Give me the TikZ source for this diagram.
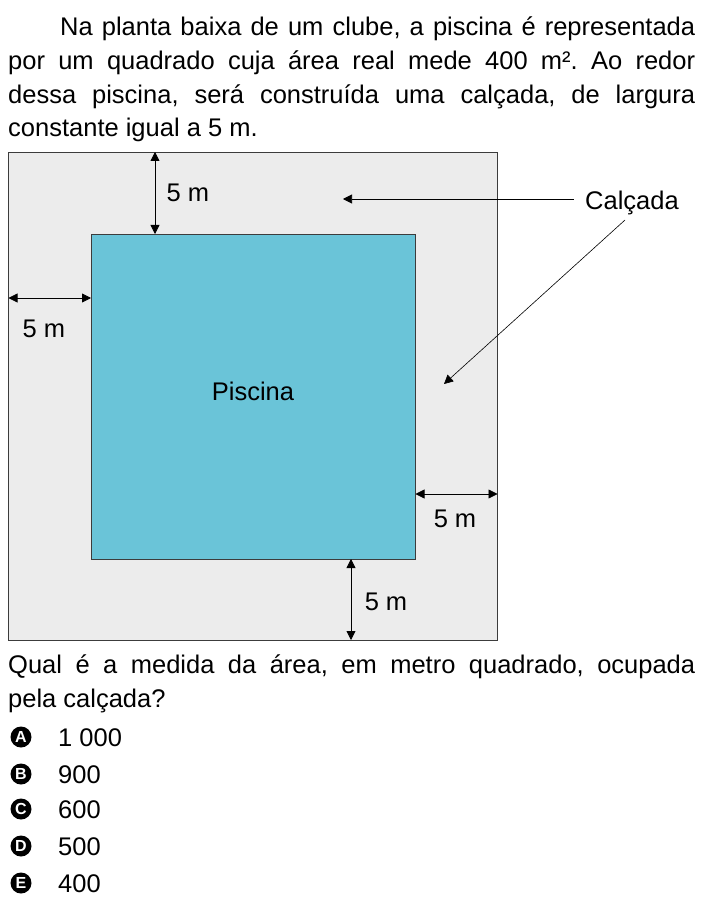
\documentclass[tikz,border=0pt]{standalone}
\usepackage{fontspec}
\setmainfont{Liberation Sans}
\usepackage{tikz}
\usetikzlibrary{arrows.meta}
\frenchspacing

\definecolor{walkgray}{RGB}{236,236,236}
\definecolor{poolblue}{RGB}{106,196,216}
\definecolor{edgegray}{RGB}{60,60,60}

\begin{document}
\begin{tikzpicture}[x=1pt, y=-1pt, font=\fontsize{25.5}{30}\selectfont,
  dimline/.style={thick, arrows = {Triangle[width=9pt, length=9pt]-Triangle[width=9pt, length=9pt]}},
  pointer/.style={semithick, arrows = {-Triangle[width=9pt, length=9pt]}},
  textline/.style={anchor=base west, inner sep=0pt},
  letter/.style={inner sep=0pt, text=white, font=\bfseries\fontsize{16}{16}\selectfont}]
\useasboundingbox (0, 0) rectangle (702, 909);
% statement
\node[textline] (line1) at (60, 36) {\makebox[635pt][s]{Na planta baixa de um clube, a piscina é representada}};
\node[textline] (line2) at (8, 70) {\makebox[687pt][s]{por um quadrado cuja área real mede 400 m². Ao redor}};
\node[textline] (line3) at (8, 104) {\makebox[687pt][s]{dessa piscina, será construída uma calçada, de largura}};
\node[textline] (line4) at (8, 137) {constante igual a 5 m.};
% plan
\draw[edgegray, thick, fill=walkgray] (8.5, 152) rectangle (497.5, 640);
\draw[edgegray, thick, fill=poolblue] (91, 234) rectangle (415.5, 559);
\node (piscina) at (253, 391) {Piscina};
\draw[dimline] (155, 152) -- (155, 234);
\node[anchor=base] (top_lbl) at (188, 202) {5 m};
\draw[dimline] (8.5, 298) -- (91, 298);
\node[anchor=base] (left_lbl) at (44, 337) {5 m};
\draw[dimline] (415.5, 494) -- (497.5, 494);
\node[anchor=base] (right_lbl) at (455, 527) {5 m};
\draw[dimline] (351, 559) -- (351, 640);
\node[anchor=base] (bottom_lbl) at (386, 610) {5 m};
% label with pointers
\node[anchor=base] (calcada) at (632, 210) {Calçada};
\coordinate (tip_top) at (343, 199);
\coordinate (tip_diag) at (444, 384);
\draw[pointer] (calcada.west |- tip_top) ++(-8, 0) -- (tip_top);
\draw[pointer] (625, 220) -- (tip_diag);
% question
\node[textline] (q1) at (8, 673) {\makebox[687pt][s]{Qual é a medida da área, em metro quadrado, ocupada}};
\node[textline] (q2) at (8, 707) {pela calçada?};
% answers
\fill (21, 737) circle[radius=10.5];
\node[letter] (optA) at (21, 737) {A};
\node[textline] (ansA) at (58, 746) {1 000};
\fill (21, 774) circle[radius=10.5];
\node[letter] (optB) at (21, 774) {B};
\node[textline] (ansB) at (58, 783) {900};
\fill (21, 809) circle[radius=10.5];
\node[letter] (optC) at (21, 809) {C};
\node[textline] (ansC) at (58, 818) {600};
\fill (21, 846) circle[radius=10.5];
\node[letter] (optD) at (21, 846) {D};
\node[textline] (ansD) at (58, 855) {500};
\fill (21, 883) circle[radius=10.5];
\node[letter] (optE) at (21, 883) {E};
\node[textline] (ansE) at (58, 892) {400};
\end{tikzpicture}
\end{document}
